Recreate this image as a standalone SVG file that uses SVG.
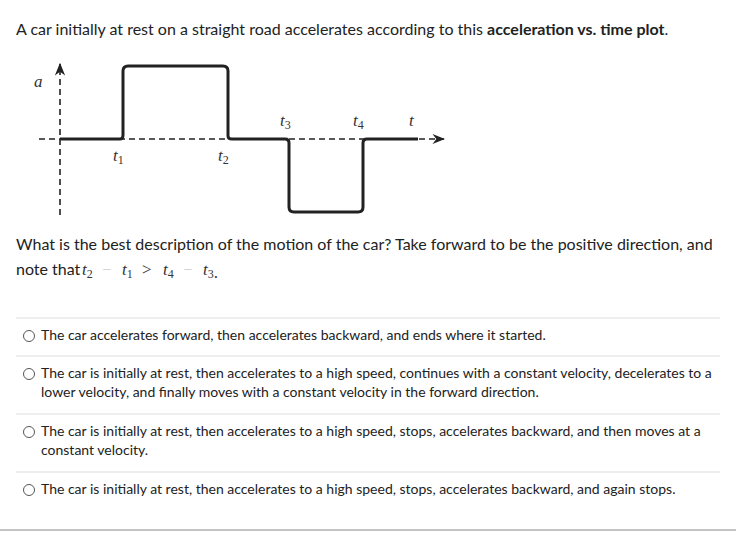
<svg xmlns="http://www.w3.org/2000/svg" width="736" height="535" viewBox="0 0 736 535">
<style>
.t{font-family:Lato,"Liberation Sans",sans-serif;font-size:16px;fill:#222;font-style:normal}
.o{font-family:Lato,"Liberation Sans",sans-serif;font-size:14px;fill:#222}
.sep{stroke:#ddd;stroke-width:1}
.rad{fill:#fff;stroke:#555;stroke-width:1}
.ax{stroke:#222;stroke-width:1.6;stroke-dasharray:6,4;fill:none}
</style>
<defs><marker id="ar" viewBox="0 0 10 10" refX="9" refY="5" markerWidth="8" markerHeight="8" orient="auto"><path d="M0,1 L10,5 L0,9 L3,5z" fill="#222"/></marker></defs>
<rect width="736" height="535" fill="#fff"/>
<text class="t" x="16" y="35">A car initially at rest on a straight road accelerates according to this <tspan font-weight="bold">acceleration vs. time plot</tspan>.</text>
<g id="plot" font-family="'Liberation Serif',serif" font-style="italic" font-size="17" fill="#333">
<line class="ax" x1="60" y1="215" x2="60" y2="64" marker-end="url(#ar)"/>
<line class="ax" x1="39" y1="139" x2="444" y2="139" marker-end="url(#ar)"/>
<path d="M60,139 H120 Q123,139 123,135 V71 Q123,66 128,66 H223 Q228,66 228,71 V136 Q228,139 232,139 H285 Q289,139 289,143 V207 Q289,212 294,212 H358 Q363,212 363,207 V143 Q363,139 367,139 H418" fill="none" stroke="#222" stroke-width="3"/>
<text x="34" y="87">a</text>
<text x="113" y="161">t<tspan font-size="12" font-style="normal" dy="3">1</tspan></text>
<text x="218" y="161">t<tspan font-size="12" font-style="normal" dy="3">2</tspan></text>
<text x="280" y="126">t<tspan font-size="12" font-style="normal" dy="3">3</tspan></text>
<text x="353" y="126">t<tspan font-size="12" font-style="normal" dy="3">4</tspan></text>
<text x="409" y="126">t</text>
</g>
<text class="t" x="16" y="250">What is the best description of the motion of the car? Take forward to be the positive direction, and</text>
<g id="cond" font-family="'Liberation Serif',serif" font-style="italic" font-size="17" fill="#333">
<text class="t" x="16" y="275">note that</text>
<text x="82" y="275">t<tspan font-size="12" font-style="normal" dy="3">2</tspan></text>
<text x="102" y="275" fill="#ccc" font-style="normal">−</text>
<text x="122" y="275">t<tspan font-size="12" font-style="normal" dy="3">1</tspan></text>
<text x="142" y="275" font-style="normal">&gt;</text>
<text x="163" y="275">t<tspan font-size="12" font-style="normal" dy="3">4</tspan></text>
<text x="183" y="275" fill="#ccc" font-style="normal">−</text>
<text x="203" y="275">t<tspan font-size="12" font-style="normal" dy="3">3</tspan><tspan font-style="normal">.</tspan></text>
</g>
<g id="options">
<line class="sep" x1="16" y1="318" x2="720" y2="318"/>
<line class="sep" x1="16" y1="356" x2="720" y2="356"/>
<line class="sep" x1="16" y1="414" x2="720" y2="414"/>
<line class="sep" x1="16" y1="472" x2="720" y2="472"/>
<line x1="0" y1="530" x2="736" y2="530" stroke="#888" stroke-width="1"/>
<circle class="rad" cx="29" cy="336" r="5.5"/>
<circle class="rad" cx="29" cy="374" r="5.5"/>
<circle class="rad" cx="29" cy="432" r="5.5"/>
<circle class="rad" cx="29" cy="490" r="5.5"/>
<text class="o" x="41" y="340">The car accelerates forward, then accelerates backward, and ends where it started.</text>
<text class="o" x="41" y="378">The car is initially at rest, then accelerates to a high speed, continues with a constant velocity, decelerates to a</text>
<text class="o" x="41" y="397">lower velocity, and finally moves with a constant velocity in the forward direction.</text>
<text class="o" x="41" y="436">The car is initially at rest, then accelerates to a high speed, stops, accelerates backward, and then moves at a</text>
<text class="o" x="41" y="455">constant velocity.</text>
<text class="o" x="41" y="494">The car is initially at rest, then accelerates to a high speed, stops, accelerates backward, and again stops.</text>
</g>
</svg>
